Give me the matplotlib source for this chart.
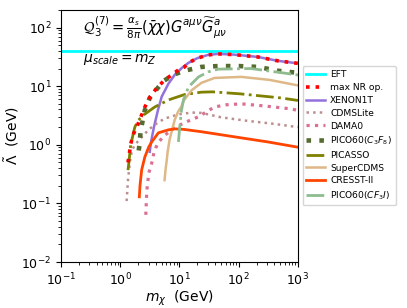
import matplotlib
matplotlib.use('Agg')
import matplotlib.pyplot as plt

# values (GeV)
eft_level = 40.0

maxnr_x = [1.35, 1.4, 1.5, 1.7, 1.9, 2.2, 2.6, 3.2, 4.1, 5.5, 7.4, 10, 12.2, 14.2, 20, 30, 45, 84, 210, 460, 1000]
maxnr_y = [0.5, 0.62, 1.04, 1.6, 2.0, 2.9, 4.4, 6.6, 9.2, 12.5, 15.6, 19.5, 21.3, 25, 30, 34, 35.5, 34.5, 31.5, 27, 24.5]

xenon_x = [3.15, 3.3, 3.7, 4.3, 5.0, 6.5, 8.3, 11, 14.2, 20, 30, 45, 84, 210, 460, 1000]
xenon_y = [0.76, 1.1, 2.0, 3.8, 6.6, 11, 15.6, 20.5, 25, 30, 34, 35.5, 34.5, 31.5, 27, 24.5]

cdmslite_x = [1.28, 1.35, 1.45, 1.57, 1.76, 2.3, 3.0, 3.8, 5.6, 9.6, 16, 23.5, 50, 144, 390, 1000]
cdmslite_y = [0.11, 0.25, 0.5, 0.8, 1.0, 1.35, 1.8, 2.2, 2.8, 3.3, 3.55, 3.5, 2.95, 2.55, 2.28, 2.0]

dama_x = [2.7, 2.8, 3.03, 3.4, 3.7, 4.0, 4.4, 5.6, 8.3, 12.2, 17.9, 22, 28.5, 38.7, 60, 110, 270, 760, 1000]
dama_y = [0.064, 0.16, 0.33, 0.49, 0.73, 0.9, 1.1, 1.45, 1.95, 2.4, 2.8, 3.1, 3.65, 4.4, 4.8, 5.0, 4.6, 4.1, 3.85]

c3f8_x = [2.05, 2.14, 2.2, 2.6, 3.15, 4.1, 5.4, 7.9, 11.8, 23.5, 45, 100, 210, 460, 1000]
c3f8_y = [0.8, 1.12, 1.73, 3.9, 6.3, 8.8, 12.3, 15.6, 18.2, 21.3, 22, 22, 21.3, 18.3, 16.9]

picasso_x = [1.35, 1.4, 1.45, 1.5, 1.76, 2.0, 2.5, 3.8, 6.6, 12.2, 23.5, 36, 105, 515, 1000]
picasso_y = [0.37, 0.5, 0.73, 1.0, 2.0, 2.6, 3.24, 4.4, 5.85, 7.2, 7.9, 8.0, 7.4, 6.3, 5.7]

supercdms_x = [5.6, 5.85, 6.1, 6.3, 6.8, 7.4, 8.3, 9.5, 10.8, 11.7, 16, 23.5, 39, 110, 330, 1000]
supercdms_y = [0.25, 0.4, 0.55, 0.75, 1.22, 1.7, 2.66, 3.7, 4.5, 5.6, 8.5, 11.4, 13.8, 14.4, 12.8, 10.3]

cresst_x = [2.1, 2.15, 2.3, 2.6, 3.03, 3.4, 4.4, 6.5, 8.3, 12, 23.5, 84, 310, 1000]
cresst_y = [0.13, 0.2, 0.375, 0.62, 0.92, 1.12, 1.6, 1.8, 1.87, 1.83, 1.67, 1.37, 1.12, 0.91]

cf3i_x = [9.6, 10, 10.8, 11.7, 14.2, 21, 30.6, 45, 160, 520, 1000]
cf3i_y = [1.12, 1.8, 3.9, 5.85, 9.7, 14.4, 17.5, 19.5, 20, 17, 15.5]


def draw():
    fig = plt.figure(figsize=(4.07, 3.08), dpi=100)
    ax = fig.add_axes([0.150, 0.149, 0.582, 0.819])

    ax.axhline(eft_level, color='cyan', lw=2, label='EFT')
    ax.plot(maxnr_x, maxnr_y, color='red', ls=':', lw=2.6, label='max NR op.', zorder=5)
    ax.plot(xenon_x, xenon_y, color='mediumpurple', lw=1.8, label='XENON1T')
    ax.plot(cdmslite_x, cdmslite_y, color='rosybrown', ls=':', lw=1.8, label='CDMSLite')
    ax.plot(dama_x, dama_y, color='palevioletred', ls=':', lw=2.3, label='DAMA0')
    ax.plot(c3f8_x, c3f8_y, color='darkolivegreen', ls=(0, (1, 1.8)), lw=3.3,
            label='PICO60($C_3F_8$)')
    ax.plot(picasso_x, picasso_y, color='olive', ls='-.', lw=2, label='PICASSO')
    ax.plot(supercdms_x, supercdms_y, color='burlywood', lw=1.8, label='SuperCDMS')
    ax.plot(cresst_x, cresst_y, color='orangered', lw=2, label='CRESST-II')
    ax.plot(cf3i_x, cf3i_y, color='darkseagreen', ls='-.', lw=2, label='PICO60($CF_3I$)')

    ax.set_xscale('log')
    ax.set_yscale('log')
    ax.set_xlim(0.1, 1000)
    ax.set_ylim(0.01, 200)
    ax.tick_params(labelsize=9)
    ax.set_xlabel(r'$m_\chi$  (GeV)', fontsize=10, labelpad=0)
    ax.set_ylabel(r'$\tilde{\Lambda}$  (GeV)', fontsize=10, labelpad=0)

    ax.text(0.093, 0.93, r'$\mathcal{Q}_3^{(7)}=\frac{\alpha_s}{8\pi}(\bar{\chi}\chi)G^{a\mu\nu}\widetilde{G}^a_{\mu\nu}$',
            transform=ax.transAxes, fontsize=10.5, va='center')
    ax.text(0.093, 0.805, r'$\mu_{scale}=m_Z$', transform=ax.transAxes, fontsize=10, va='center')

    ax.legend(loc='center left', bbox_to_anchor=(1.0, 0.5), fontsize=6.6, labelspacing=0.42,
              handlelength=2.0, handletextpad=0.6, borderpad=0.4)
    fig.savefig('out.png', dpi=100)


if __name__ == '__main__':
    draw()
